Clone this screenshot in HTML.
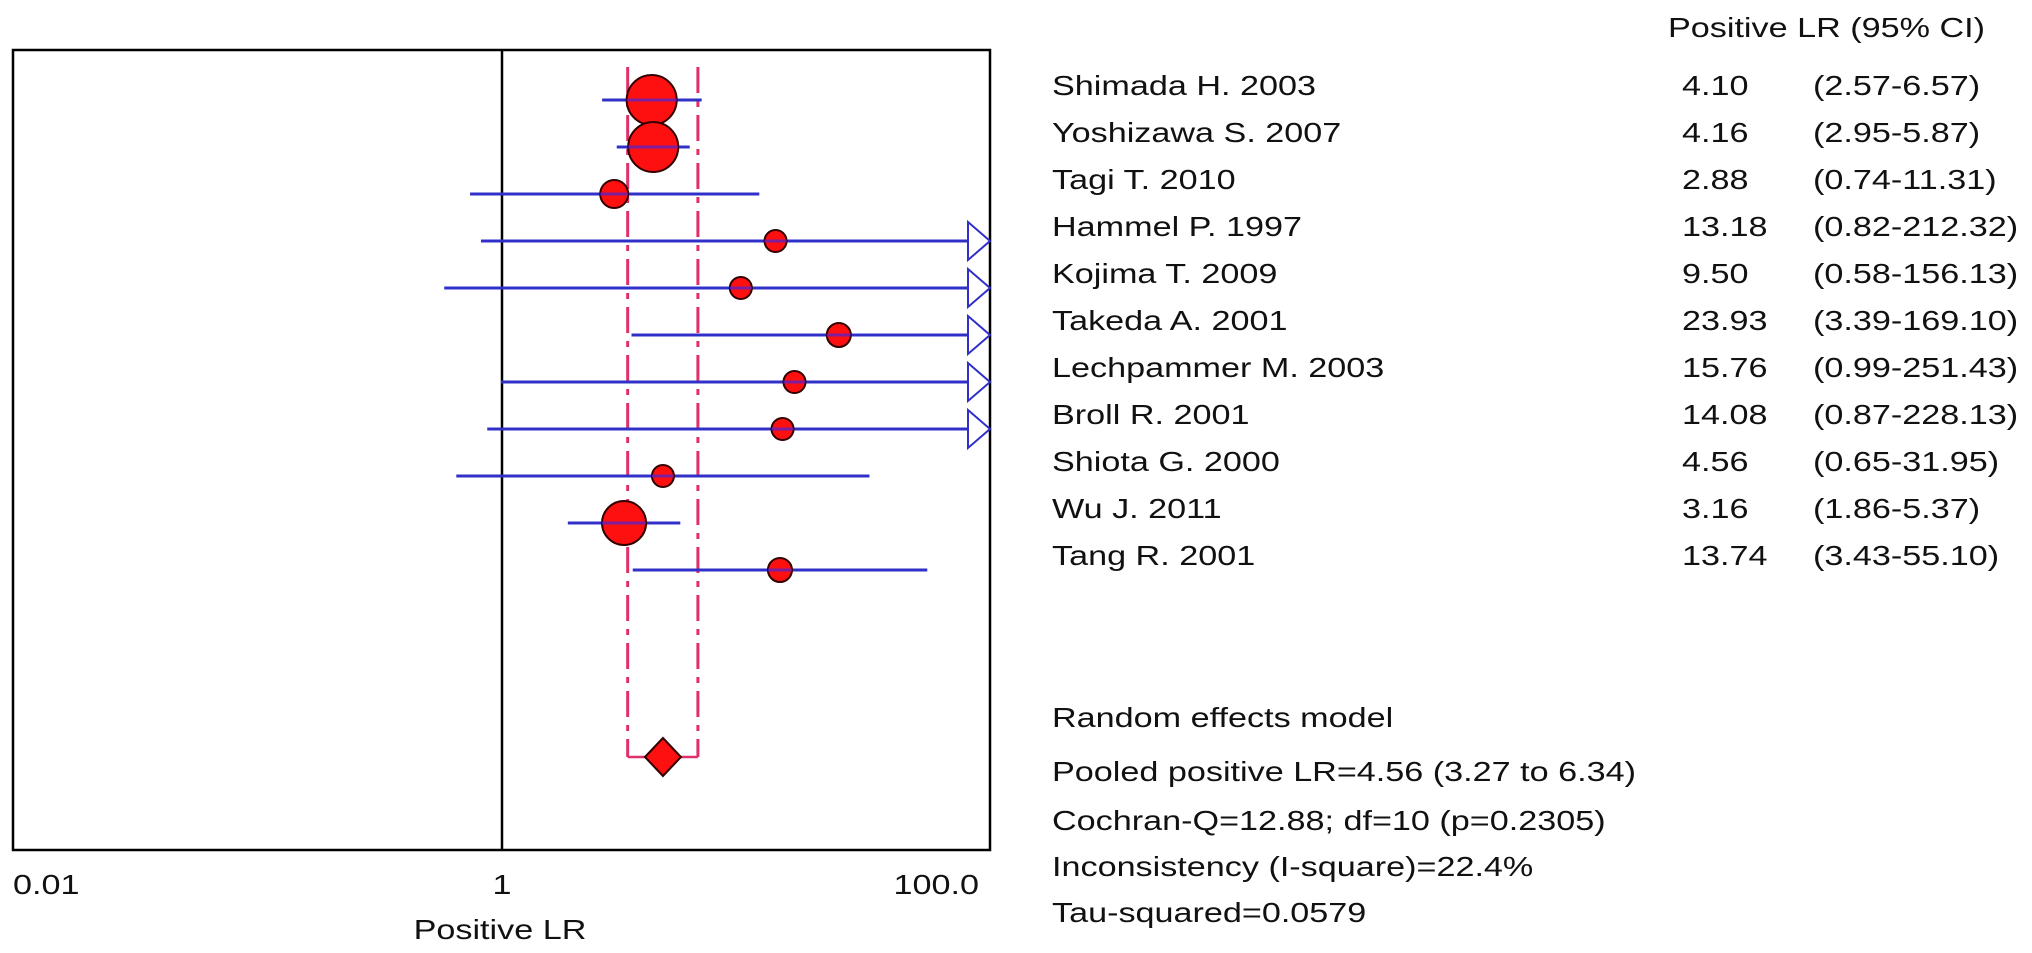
<!DOCTYPE html>
<html><head><meta charset="utf-8"><style>
html,body{margin:0;padding:0;background:#fff;}
svg{display:block;font-family:"Liberation Sans",sans-serif;}
</style></head><body>
<svg id="chart" width="2032" height="953" viewBox="0 0 2032 953" xmlns="http://www.w3.org/2000/svg">
<rect x="13" y="50" width="977" height="800" fill="none" stroke="#000" stroke-width="2.5"/>
<text class="st" x="1668" y="37" font-size="28" fill="#111">Positive LR (95% CI)</text>
<text class="st" x="13" y="894" font-size="28" fill="#111">0.01</text>
<text class="st" x="502" y="894" font-size="28" fill="#111" text-anchor="middle">1</text>
<text class="st" x="979" y="894" font-size="28" fill="#111" text-anchor="end">100.0</text>
<text class="st" x="500" y="939" font-size="28" fill="#111" text-anchor="middle">Positive LR</text>
<g id="summary" font-size="28" fill="#111">
<text class="st" x="1052" y="727">Random effects model</text>
<text class="st" x="1052" y="781">Pooled positive LR=4.56 (3.27 to 6.34)</text>
<text class="st" x="1052" y="830">Cochran-Q=12.88; df=10 (p=0.2305)</text>
<text class="st" x="1052" y="876">Inconsistency (I-square)=22.4%</text>
<text class="st" x="1052" y="922">Tau-squared=0.0579</text>
</g>
</svg>
<script>
const studies=["Shimada H. 2003","Yoshizawa S. 2007","Tagi T. 2010","Hammel P. 1997","Kojima T. 2009","Takeda A. 2001","Lechpammer M. 2003","Broll R. 2001","Shiota G. 2000","Wu J. 2011","Tang R. 2001"];
const lr=[4.10,4.16,2.88,13.18,9.50,23.93,15.76,14.08,4.56,3.16,13.74];
const lo=[2.57,2.95,0.74,0.82,0.58,3.39,0.99,0.87,0.65,1.86,3.43];
const hi=[6.57,5.87,11.31,212.32,156.13,169.10,251.43,228.13,31.95,5.37,55.10];
const weight=[25,25,14,11,11,12,11,11,11,22,12];
const pooled=[4.56,3.27,6.34];
const NS="http://www.w3.org/2000/svg";
const svg=document.getElementById('chart');
const X0=13,X1=990;
function xs(v){return 502+Math.log10(v)*(X1-X0)/4;}
function ys(i){return 100+i*47;}
function mk(t,a,p){const e=document.createElementNS(NS,t);for(const k in a)e.setAttribute(k,a[k]);(p||svg).appendChild(e);return e;}
let v=mk('line',{x1:xs(1),x2:xs(1),y1:50,y2:850,stroke:'#000','stroke-width':2.5});


const yd=757;
[pooled[1],pooled[2]].forEach((p,k)=>{
 const l=mk('line',{x1:xs(p),x2:xs(p),y1:67,y2:yd,stroke:'#e0306a','stroke-width':3,'stroke-dasharray':'26 8 6 8'});
 
 
});
let b=mk('line',{x1:xs(pooled[1]),x2:xs(pooled[2]),y1:yd,y2:yd,stroke:'#e0306a','stroke-width':2.5});


studies.forEach((s,i)=>{
 const y=ys(i);
 const x2=Math.min(xs(hi[i]),X1);
 const cut=xs(hi[i])>X1;
 const l=mk('line',{x1:Math.max(xs(lo[i]),X0),x2:cut?X1-22:x2,y1:y,y2:y,stroke:'#3030c8','stroke-width':3});
 
 
 const c=mk('circle',{cx:xs(lr[i]),cy:y,r:weight[i],fill:'#ff1010',stroke:'#300','stroke-width':2});
 
 
 mk('line',{x1:xs(lr[i])-weight[i],x2:xs(lr[i])+weight[i],y1:y,y2:y,stroke:'#6020c0','stroke-width':3,'stroke-opacity':0.8});
 if(cut){
  const a=mk('polygon',{points:(X1-22)+','+(y-19)+' '+X1+','+y+' '+(X1-22)+','+(y+19),fill:'#fff',stroke:'#3030c8','stroke-width':2});
  
  
 }
 const ty=y-5;
 const t1=mk('text',{x:1052,y:ty,'font-size':28,fill:'#111','class':'st'});t1.textContent=s;
 
 
 const t2=mk('text',{x:1682,y:ty,'font-size':28,fill:'#111','class':'st'});t2.textContent=lr[i].toFixed(2);
 
 
 const t3=mk('text',{x:1813,y:ty,'font-size':28,fill:'#111','class':'st'});t3.textContent='('+lo[i].toFixed(2)+'-'+hi[i].toFixed(2)+')';
 
 
});
const px=xs(pooled[0]);
const d=mk('polygon',{points:px+','+(yd-19)+' '+(px+18)+','+yd+' '+px+','+(yd+19)+' '+(px-18)+','+yd,fill:'#ff1010',stroke:'#300','stroke-width':2});


document.querySelectorAll('text.st').forEach(t=>{
 const w=t.getComputedTextLength();
 t.setAttribute('textLength',(w*1.22).toFixed(1));
 t.setAttribute('lengthAdjust','spacingAndGlyphs');
});
</script>
</body></html>
